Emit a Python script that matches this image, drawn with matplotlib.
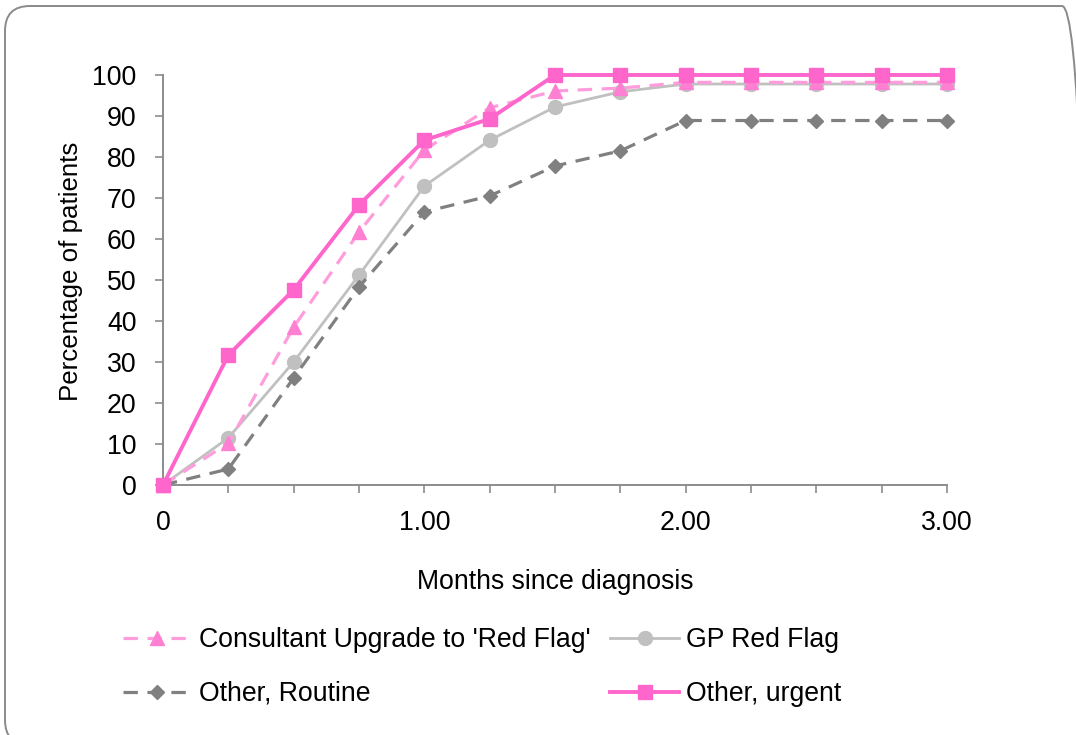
import numpy as np
import matplotlib.pyplot as plt
from matplotlib.patches import FancyBboxPatch

plt.rcParams["font.family"] = ["Liberation Sans", "DejaVu Sans"]

months = [0, 0.25, 0.5, 0.75, 1.0, 1.25, 1.5, 1.75, 2.0, 2.25, 2.5, 2.75, 3.0]
consultant_upgrade = [0, 10.2, 38.5, 61.7, 81.7, 92.0, 96.1, 96.8, 98.2, 98.2, 98.2, 98.2, 98.2]
gp_red_flag = [0, 11.5, 30.0, 51.2, 72.9, 84.1, 92.2, 95.9, 97.8, 97.8, 97.8, 97.8, 97.8]
other_routine = [0, 3.9, 26.1, 48.3, 66.6, 70.5, 77.8, 81.5, 88.9, 88.9, 88.9, 88.9, 88.9]
other_urgent = [0, 31.7, 47.6, 68.3, 84.1, 89.3, 100, 100, 100, 100, 100, 100, 100]

x_tick_labels = {0: "0", 1: "1.00", 2: "2.00", 3: "3.00"}

FS = 19.2
AXIS_GREY = "#8c8c8c"

fig = plt.figure(figsize=(10.76, 7.35), dpi=100)
fig.patch.set_facecolor("white")

# rounded chart-area frame (inches), running off the right/bottom edge
frame = FancyBboxPatch(
    (0.05, -0.10), 10.82, 7.39,
    boxstyle="round,pad=0,rounding_size=0.25",
    transform=fig.dpi_scale_trans, facecolor="none",
    edgecolor="#8a8a8a", linewidth=1.4, clip_on=False,
)
fig.patches.append(frame)

ax = fig.add_axes([163 / 1076, 1 - 485 / 735, 784 / 1076, 410 / 735])

l_cons, = ax.plot(months, consultant_upgrade, color="#ff9ddc", linewidth=2.3,
                  dashes=(4.5, 3), marker="^", markersize=10,
                  markerfacecolor="#ff80d2", markeredgecolor="#ff80d2",
                  label="Consultant Upgrade to 'Red Flag'", clip_on=False, zorder=3)
l_gp, = ax.plot(months, gp_red_flag, color="#c0c0c0", linewidth=2.0,
                marker="o", markersize=10, label="GP Red Flag",
                clip_on=False, zorder=2)
l_rout, = ax.plot(months, other_routine, color="#808080", linewidth=2.3,
                  dashes=(4.5, 3), marker="D", markersize=7.5,
                  label="Other, Routine", clip_on=False, zorder=2)
l_urg, = ax.plot(months, other_urgent, color="#ff66cc", linewidth=2.8,
                 marker="s", markersize=10.5, label="Other, urgent",
                 clip_on=False, zorder=4)

ax.set_xlim(0, 3)
ax.set_ylim(0, 100)
ax.set_yticks(np.arange(0, 101, 10))
ax.set_xticks(months)
ax.set_xticklabels([x_tick_labels.get(m, "") for m in months])

for side in ("top", "right"):
    ax.spines[side].set_visible(False)
for side in ("left", "bottom"):
    ax.spines[side].set_color(AXIS_GREY)
    ax.spines[side].set_linewidth(1.4)

ax.tick_params(axis="y", direction="out", length=6, width=1.2,
               color=AXIS_GREY, labelsize=FS, pad=13)
ax.tick_params(axis="x", direction="out", length=6, width=1.2,
               color=AXIS_GREY, labelsize=FS, pad=12)

ax.set_xlabel("Months since diagnosis", fontsize=FS, labelpad=24)
ax.set_ylabel("Percentage of patients", fontsize=18.6)
ax.yaxis.set_label_coords(-0.102, 0.522)

# legend is filled column by column, so order entries to read row-wise
handles = [l_cons, l_rout, l_gp, l_urg]
fig.legend(handles, [h.get_label() for h in handles], ncol=2, frameon=False,
           fontsize=FS, loc="upper left",
           bbox_to_anchor=(123 / 1076, 1 - 627 / 735),
           borderpad=0, borderaxespad=0, handlelength=2.58,
           handletextpad=0.26, columnspacing=0.75, labelspacing=1.05)

fig.savefig("out.png", dpi=100)
